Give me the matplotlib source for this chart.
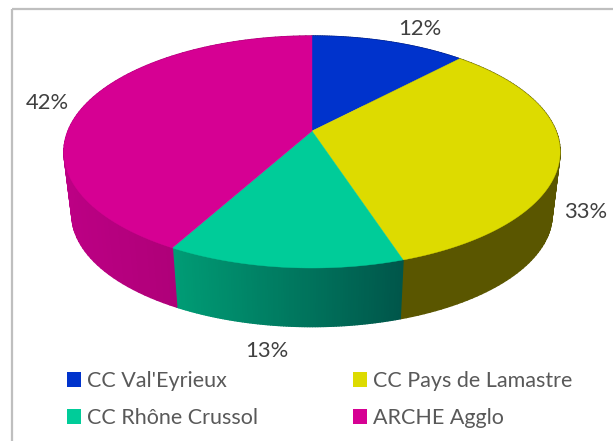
import numpy as np
import matplotlib
matplotlib.use("Agg")
import matplotlib.pyplot as plt
from matplotlib.patches import Polygon, Patch
from matplotlib.collections import PolyCollection

categories = ["CC Val'Eyrieux", "CC Pays de Lamastre", "CC Rhône Crussol", "ARCHE Agglo"]
shares = [12, 33, 13, 42]
labels = ["12%", "33%", "13%", "42%"]
colors = ["#0033CC", "#DDDB00", "#00CC99", "#D60093"]
wall_start = ["#001F80", "#5A5600", "#009C75", "#BC0084"]
wall_end = ["#001F80", "#5A5600", "#00564A", "#9E006A"]
label_xy = [(420, 29), (586, 212), (267, 351), (47, 103)]

plt.rcParams["font.family"] = ["Lato", "DejaVu Sans"]
fig = plt.figure(figsize=(6.13, 4.41), dpi=100)
ax = fig.add_axes([0, 0, 1, 1])
ax.set_xlim(0, 613)
ax.set_ylim(441, 0)
ax.axis("off")

CX, TOP_Y, BOT_Y = 312, 131, 194
A, B, K = 244.0, 112.2, 0.181
SHRINK = 0.968


def project(theta, base_y, scale):
    x, y = np.sin(theta), np.cos(theta)
    d = 1 + K * y
    return CX + scale * A * x / d, base_y - scale * B * y / d


def rgb(c):
    return np.array(matplotlib.colors.to_rgb(c))


edges = np.cumsum([0] + shares) / sum(shares) * 2 * np.pi

# outer frame
ax.plot([12, 12], [441, 9], color="#BFBFBF", lw=1.6, solid_capstyle="butt")
ax.plot([12, 613], [9, 9], color="#BFBFBF", lw=1.6, solid_capstyle="butt")

# side walls
for i in range(len(shares)):
    t = np.linspace(edges[i], edges[i + 1], 90)
    xt, yt = project(t, TOP_Y, 1.0)
    xb, yb = project(t, BOT_Y, SHRINK)
    c0, c1 = rgb(wall_start[i]), rgb(wall_end[i])
    quads, cols = [], []
    xmin, xmax = min(xt.min(), xb.min()), max(xt.max(), xb.max())
    for j in range(len(t) - 1):
        quads.append([(xt[j], yt[j]), (xt[j + 1], yt[j + 1]), (xb[j + 1], yb[j + 1]), (xb[j], yb[j])])
        f = (0.5 * (xt[j] + xt[j + 1]) - xmin) / max(xmax - xmin, 1)
        cols.append(c0 + (c1 - c0) * f)
    ax.add_collection(PolyCollection(quads, facecolors=cols, edgecolors=cols, linewidths=1.0))

# top face
for i in range(len(shares)):
    t = np.linspace(edges[i], edges[i + 1], 200)
    xt, yt = project(t, TOP_Y, 1.0)
    pts = np.column_stack([np.r_[CX, xt], np.r_[TOP_Y, yt]])
    ax.add_patch(Polygon(pts, closed=True, facecolor=colors[i], edgecolor=colors[i], lw=0.3))

for s, (x, y) in zip(labels, label_xy):
    ax.text(x, y, s, ha="center", va="center", fontsize=15.8, color="#404040")

handles = [Patch(facecolor=c, edgecolor="none") for c in colors]
order = [0, 2, 1, 3]
leg = ax.legend([handles[i] for i in order], [categories[i] for i in order], ncol=2,
                loc="upper left", bbox_to_anchor=(67, 371), bbox_transform=ax.transData,
                frameon=False, fontsize=15.5, labelcolor="#595959", borderpad=0, borderaxespad=0,
                handlelength=0.65, handleheight=0.65, handletextpad=0.26,
                columnspacing=4.45, labelspacing=0.8)

fig.savefig("out.png", dpi=100)
